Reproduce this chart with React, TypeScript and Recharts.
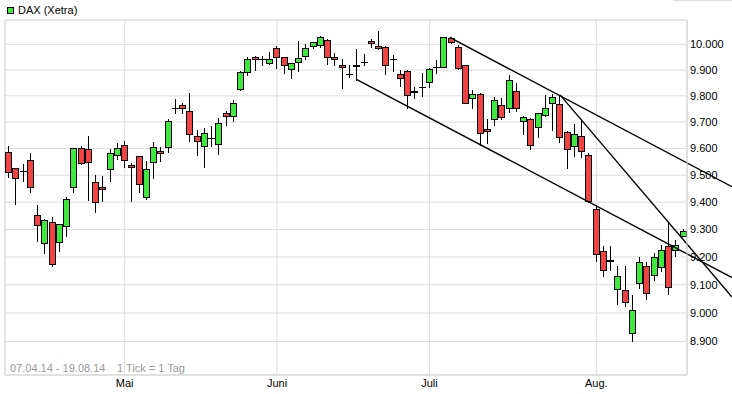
import React from 'react';
import { ComposedChart, Bar, XAxis, YAxis, CartesianGrid, ReferenceLine, ReferenceArea } from 'recharts';

// DAX (Xetra) Tageskerzen 07.04.14 - 19.08.14
const opens = [
  9586, 9526, 9516, 9556, 9351, 9251, 9326, 9254, 9311, 9455,
  9601, 9597, 9474, 9456, 9523, 9576, 9612, 9538, 9571, 9418,
  9549, 9590, 9607, 9753, 9765, 9743, 9647, 9608, 9641, 9616,
  9733, 9722, 9828, 9893, 9950, 9941, 9926, 9985, 9950, 9905,
  9931, 9953, 9992, 9997, 10019, 9950, 9921, 9885, 9917, 9931,
  10015, 9994, 9990, 9943, 9885, 9897, 9816, 9836, 9855, 9913,
  9913, 10025, 9991, 9919, 9790, 9808, 9675, 9713, 9765, 9752,
  9818, 9705, 9712, 9682, 9728, 9772, 9770, 9662, 9608, 9648,
  9576, 9374, 9220, 9186, 9086, 9082, 8929, 9107, 9169, 9136,
  9164, 9238, 9224, 9276,
];
const highs = [
  9609, 9528, 9541, 9582, 9389, 9337, 9345, 9320, 9419, 9603,
  9609, 9648, 9501, 9497, 9598, 9620, 9629, 9545, 9573, 9553,
  9625, 9607, 9713, 9787, 9774, 9812, 9670, 9676, 9685, 9715,
  9742, 9783, 9895, 9950, 9955, 9956, 9969, 9994, 9952, 9929,
  10013, 10001, 10010, 10032, 10023, 9968, 9944, 9921, 9982, 9962,
  10023, 10051, 9992, 9959, 9901, 9899, 9836, 9889, 9907, 9940,
  10029, 10029, 9997, 9921, 9821, 9810, 9710, 9797, 9790, 9880,
  9848, 9722, 9714, 9736, 9803, 9806, 9803, 9665, 9693, 9710,
  9582, 9389, 9240, 9238, 9169, 9169, 9063, 9200, 9181, 9216,
  9245, 9322, 9262, 9300,
];
const lows = [
  9495, 9392, 9480, 9439, 9259, 9214, 9166, 9220, 9277, 9439,
  9541, 9407, 9364, 9405, 9480, 9560, 9532, 9405, 9439, 9410,
  9489, 9554, 9586, 9733, 9733, 9630, 9577, 9532, 9608, 9581,
  9688, 9703, 9822, 9880, 9900, 9918, 9924, 9907, 9888, 9868,
  9895, 9943, 9987, 9990, 9924, 9921, 9832, 9874, 9863, 9921,
  9991, 9982, 9883, 9895, 9838, 9755, 9793, 9799, 9836, 9889,
  9913, 10006, 9902, 9772, 9755, 9613, 9620, 9690, 9712, 9738,
  9741, 9655, 9598, 9645, 9722, 9671, 9623, 9526, 9573, 9569,
  9400, 9184, 9131, 9152, 9031, 9024, 8903, 9089, 9050, 9119,
  9149, 9066, 9202, 9276,
];
const closes = [
  9511, 9489, 9517, 9455, 9316, 9335, 9175, 9318, 9410, 9601,
  9545, 9549, 9399, 9448, 9582, 9601, 9557, 9530, 9466, 9522,
  9607, 9582, 9705, 9753, 9755, 9655, 9628, 9658, 9641, 9697,
  9724, 9771, 9893, 9943, 9941, 9941, 9943, 9950, 9921, 9927,
  9947, 9985, 10008, 10027, 9950, 9941, 9912, 9885, 9921, 9931,
  10004, 9985, 9920, 9943, 9870, 9805, 9820, 9836, 9905, 9913,
  10027, 10008, 9908, 9774, 9807, 9658, 9667, 9785, 9720, 9861,
  9755, 9718, 9612, 9734, 9755, 9795, 9643, 9598, 9653, 9592,
  9405, 9212, 9155, 9190, 9133, 9039, 9011, 9181, 9070, 9200,
  9225, 9093, 9245, 9295,
];

const monthTicks = [16, 37, 58, 81];
const monthLabels = ['Mai', 'Juni', 'Juli', 'Aug.'];
const priceTicks = [8900, 9000, 9100, 9200, 9300, 9400, 9500, 9600, 9700, 9800, 9900, 10000];

// Trendlinien (Index, Kurs)
const trendLines = [
  { x1: 60.8, y1: 10027, x2: 99.7, y2: 9457 },
  { x1: 48, y1: 9863, x2: 99.7, y2: 9126 },
  { x1: 76, y1: 9804, x2: 99.7, y2: 9057 },
];

const data = opens.map((o, i) => ({ i, open: o, high: highs[i], low: lows[i], close: closes[i] }));

const UP = '#3ee83e';
const DOWN = '#f04444';
const GRID = '#dcdcdc';

const fmt = (v: number) => {
  const s = String(v);
  return s.length > 3 ? s.slice(0, -3) + '.' + s.slice(-3) : s;
};

const Candle = (props: any) => {
  const { x, y, width, height, payload } = props;
  const top = Math.min(y, y + height);
  const h = Math.abs(height);
  const lnH = Math.log(payload.high);
  const lnL = Math.log(payload.low);
  const py = (v: number) => top + (lnH - lnL > 0 ? (h * (lnH - Math.log(v))) / (lnH - lnL) : 0);
  const cx = Math.floor(x + width / 2) + 0.5;
  const yHi = Math.round(py(payload.high));
  const yLo = Math.round(py(payload.low));
  const yT = Math.round(py(Math.max(payload.open, payload.close)));
  const yB = Math.round(py(Math.min(payload.open, payload.close)));
  const up = payload.close >= payload.open;
  return (
    <g>
      <line x1={cx} x2={cx} y1={yHi} y2={yLo + 1} stroke="#000" strokeWidth={1} />
      {yB - yT < 1 ? (
        <line x1={cx - 3.5} x2={cx + 3.5} y1={yT + 0.5} y2={yT + 0.5} stroke="#000" strokeWidth={1} />
      ) : (
        <rect x={cx - 3} y={yT + 0.5} width={6} height={yB - yT} fill={up ? UP : DOWN} stroke="#000" strokeWidth={1} />
      )}
    </g>
  );
};

const App: React.FC = () => {
  return (
    <div style={{ position: 'absolute', left: 0, top: 0, width: 732, height: 394, background: '#fff', fontFamily: "'Liberation Sans', Arial, sans-serif" }}>
      <ComposedChart width={732} height={394} data={data} margin={{ top: 20, right: 0, bottom: 0, left: 5 }}>
        <CartesianGrid stroke={GRID} />
        <ReferenceArea x1={-0.5} x2={93.5} y1={8784} y2={10096} fill="none" stroke={GRID} ifOverflow="visible" />
        <XAxis
          dataKey="i"
          type="number"
          domain={[-0.5, 93.5]}
          allowDataOverflow
          ticks={monthTicks}
          interval={0}
          tickFormatter={(v: number) => monthLabels[monthTicks.indexOf(v)]}
          height={19}
          axisLine={{ stroke: GRID }}
          tickLine={false}
          tickSize={0}
          tickMargin={4}
          tick={{ fill: '#000', fontSize: 11 }}
        />
        <YAxis
          orientation="right"
          width={45}
          type="number"
          scale="log"
          domain={[8784, 10096]}
          allowDataOverflow
          ticks={priceTicks}
          interval={0}
          tickFormatter={fmt}
          axisLine={{ stroke: GRID }}
          tickLine={false}
          tickSize={0}
          tickMargin={3}
          tick={{ fill: '#000', fontSize: 11 }}
        />
        <Bar dataKey={(d: any) => [d.low, d.high]} barSize={7} shape={<Candle />} isAnimationActive={false} />
        {trendLines.map((t, k) => (
          <ReferenceLine
            key={k}
            segment={[{ x: t.x1, y: t.y1 }, { x: t.x2, y: t.y2 }]}
            stroke="#000"
            strokeWidth={1.4}
            ifOverflow="visible"
          />
        ))}
      </ComposedChart>
      <svg width={732} height={394} style={{ position: 'absolute', left: 0, top: 0, pointerEvents: 'none' }}>
        <line x1={673} x2={732} y1={0.5} y2={0.5} stroke={GRID} />
        <rect x={7.5} y={7.5} width={6} height={6} fill={UP} stroke="#000" />
        <text x={18} y={14} fontSize={11} fill="#000">DAX (Xetra)</text>
        <text x={10} y={372} fontSize={11} fill="#999">07.04.14 - 19.08.14</text>
        <text x={117} y={372} fontSize={11} fill="#999">1 Tick = 1 Tag</text>
      </svg>
    </div>
  );
};

export default App;
